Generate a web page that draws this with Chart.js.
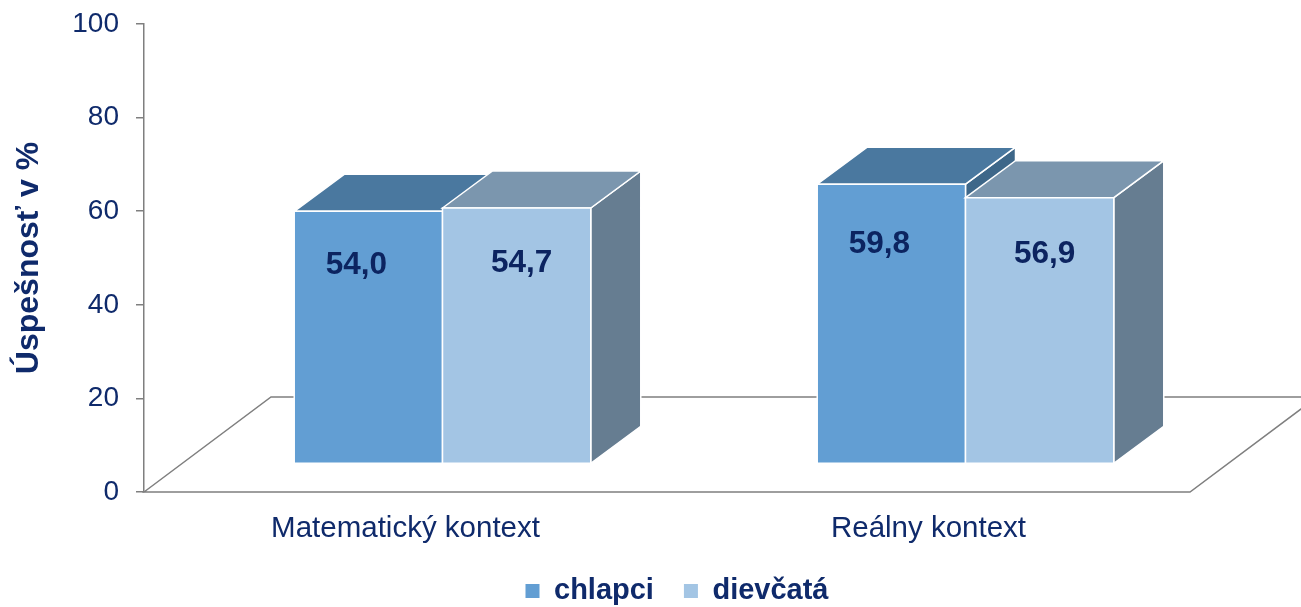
<!DOCTYPE html>
<html><head><meta charset="utf-8">
<script src="https://cdn.jsdelivr.net/npm/chart.js@4.4.0/dist/chart.umd.min.js"></script>
<style>html,body{margin:0;padding:0;background:#fff;}#wrap{width:1301px;height:607px;}</style>
</head><body><div id="wrap"><canvas id="c" width="1301" height="607"></canvas></div>
<script>
// ---- data ----
const categories = ['Matematický kontext', 'Reálny kontext'];
const seriesNames = ['chlapci', 'dievčatá'];
const chlapci = [54.0, 59.8];
const dievcata = [54.7, 56.9];
const yTickValues = [0, 20, 40, 60, 80, 100];
const axisTitle = 'Úspešnosť v %';

// ---- style ----
const FONT = '"Liberation Sans", Arial, sans-serif';
const NAVY = '#0F2A6B';
const LABEL_NAVY = '#0C2460';
const GRAY = '#7F7F7F';
const FLOOR_DX = 127, FLOOR_DY = 95;      // floor depth
const SHIFT_X = 37, SHIFT_Y = 28;         // bar front plane offset into the floor
const DEPTH_X = 50, DEPTH_Y = 37;         // bar depth
const styles = [
  {front: '#629ED3', top: '#4A789F', side: '#3E6789', labelShift: -12},
  {front: '#A3C5E4', top: '#7B96AE', side: '#667D91', labelShift: 5}
];

function fmt(v) { return v.toFixed(1).replace('.', ','); }

function face(ctx, pts, fill) {
  ctx.beginPath();
  ctx.moveTo(pts[0][0], pts[0][1]);
  for (let i = 1; i < pts.length; i++) ctx.lineTo(pts[i][0], pts[i][1]);
  ctx.closePath();
  ctx.fillStyle = fill;
  ctx.fill();
  ctx.strokeStyle = '#FFFFFF';
  ctx.lineWidth = 1.5;
  ctx.stroke();
}

const bars3d = {
  id: 'bars3d',
  beforeDatasetsDraw(chart) {
    const ctx = chart.ctx;
    const a = chart.chartArea;
    ctx.save();
    // floor outline
    ctx.strokeStyle = GRAY;
    ctx.lineWidth = 1.5;
    ctx.beginPath();
    ctx.moveTo(a.left, a.bottom);
    ctx.lineTo(a.left + FLOOR_DX, a.bottom - FLOOR_DY);
    ctx.lineTo(a.right + FLOOR_DX, a.bottom - FLOOR_DY);
    ctx.lineTo(a.right, a.bottom);
    ctx.closePath();
    ctx.stroke();

    const metas = chart.data.datasets.map((d, i) => chart.getDatasetMeta(i));
    const labels = [];
    for (let c = 0; c < categories.length; c++) {
      metas.forEach((meta, di) => {
        const el = meta.data[c];
        const st = styles[di];
        const w = el.width;
        const x0 = el.x - w / 2 + SHIFT_X, x1 = el.x + w / 2 + SHIFT_X;
        const yt = el.y - SHIFT_Y, yb = el.base - SHIFT_Y;
        face(ctx, [[x1, yt], [x1 + DEPTH_X, yt - DEPTH_Y], [x1 + DEPTH_X, yb - DEPTH_Y], [x1, yb]], st.side);
        face(ctx, [[x0, yt], [x0 + DEPTH_X, yt - DEPTH_Y], [x1 + DEPTH_X, yt - DEPTH_Y], [x1, yt]], st.top);
        face(ctx, [[x0, yt], [x1, yt], [x1, yb], [x0, yb]], st.front);
        const v = chart.data.datasets[di].data[c];
        labels.push({x: (x0 + x1) / 2 + st.labelShift, y: yt + (yb - yt) * 0.215, t: fmt(v)});
      });
    }
    ctx.fillStyle = LABEL_NAVY;
    ctx.font = 'bold 31.5px ' + FONT;
    ctx.textAlign = 'center';
    ctx.textBaseline = 'middle';
    labels.forEach(l => ctx.fillText(l.t, l.x, l.y));
    ctx.restore();
    return false;
  }
};

new Chart(document.getElementById('c'), {
  type: 'bar',
  data: {
    labels: categories,
    datasets: [
      {label: seriesNames[0], data: chlapci, backgroundColor: styles[0].front, borderColor: styles[0].front, borderWidth: 0},
      {label: seriesNames[1], data: dievcata, backgroundColor: styles[1].front, borderColor: styles[1].front, borderWidth: 0}
    ]
  },
  plugins: [bars3d],
  options: {
    responsive: false,
    animation: false,
    events: [],
    layout: {padding: {left: 53, right: 0, top: 0, bottom: -8.5}},
    datasets: {bar: {barPercentage: 1.0, categoryPercentage: 0.567}},
    plugins: {
      tooltip: {enabled: false},
      legend: {
        position: 'bottom',
        labels: {
          boxWidth: 14, boxHeight: 14, padding: 30, color: NAVY,
          font: {family: FONT, size: 29, weight: 'bold'}
        }
      }
    },
    scales: {
      x: {
        grid: {display: false, drawTicks: false},
        border: {display: false},
        ticks: {color: NAVY, padding: 19, font: {family: FONT, size: 29.5}},
        afterFit(s) { s.height = 54.5; }
      },
      y: {
        min: 0, max: 100,
        afterBuildTicks(s) { s.ticks = yTickValues.map(v => ({value: v})); },
        grid: {drawOnChartArea: false, drawTicks: true, tickLength: 8, color: GRAY, lineWidth: 1.5},
        border: {display: true, color: GRAY, width: 1.5},
        ticks: {color: NAVY, padding: 17, font: {family: FONT, size: 28, lineHeight: 0.5}},
        title: {display: true, text: axisTitle, color: NAVY, padding: {top: -43, bottom: 0}, font: {family: FONT, size: 32, weight: 'bold'}},
        afterFit(s) { s.width = 91; }
      },
      y2: {
        position: 'right',
        grid: {display: false, drawTicks: false},
        border: {display: false},
        ticks: {display: false},
        afterFit(s) { s.width = 111; }
      }
    }
  }
});
</script>
</body></html>
